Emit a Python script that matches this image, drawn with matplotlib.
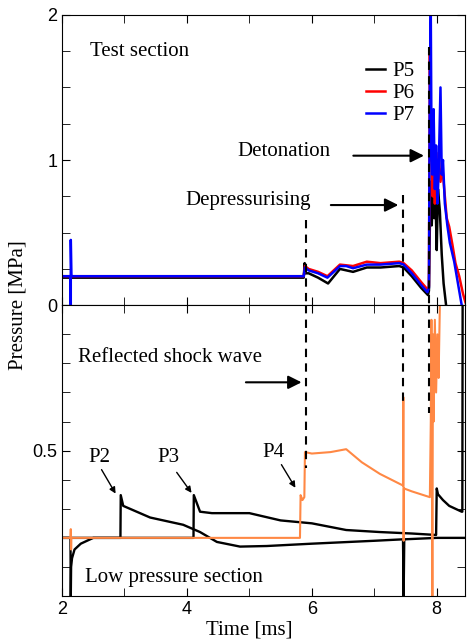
import matplotlib
matplotlib.use('Agg')
import matplotlib.pyplot as plt
from matplotlib.ticker import MultipleLocator

# test section (top panel), time in ms, pressure in MPa
p5_t = [2.0, 5.87, 5.885, 5.9, 5.95, 6.1, 6.26, 6.45, 6.66, 6.88, 7.1, 7.4, 7.47, 7.6, 7.75, 7.86,
        7.875, 7.9, 7.92, 7.94, 7.96, 7.98, 8.0, 8.02, 8.05, 8.08, 8.11, 8.15, 8.17]
p5_v = [0.19, 0.19, 0.29, 0.22, 0.22, 0.19, 0.15, 0.25, 0.23, 0.26, 0.26, 0.27, 0.26, 0.2, 0.12, 0.07,
        0.1, 0.85, 0.55, 0.8, 0.6, 0.75, 0.38, 0.8, 0.65, 0.35, 0.15, 0.0, -0.05]
p6_t = [2.0, 5.87, 5.89, 5.95, 6.1, 6.25, 6.45, 6.66, 6.88, 7.1, 7.4, 7.47, 7.6, 7.75, 7.85, 7.875,
        7.89, 7.905, 7.92, 7.935, 7.95, 7.97, 7.99, 8.01, 8.03, 8.06, 8.09, 8.12, 8.16, 8.2, 8.25,
        8.3, 8.36, 8.42, 8.46]
p6_v = [0.2, 0.2, 0.27, 0.25, 0.23, 0.2, 0.28, 0.27, 0.3, 0.29, 0.3, 0.29, 0.24, 0.16, 0.11, 0.13,
        1.74, 1.0, 1.25, 0.75, 1.1, 0.7, 1.0, 0.8, 1.05, 0.85, 0.95, 0.8, 0.6, 0.54, 0.42,
        0.29, 0.2, 0.08, 0.02]
p7_t = [2.0, 2.13, 2.14, 2.14, 2.15, 2.16, 5.87, 5.89, 5.95, 6.1, 6.25, 6.45, 6.55, 6.66, 6.88, 7.1,
        7.4, 7.47, 7.6, 7.75, 7.85, 7.875, 7.89, 7.905, 7.915, 7.93, 7.95, 7.97, 7.99, 8.01, 8.03,
        8.06, 8.08, 8.1, 8.13, 8.17, 8.21, 8.28, 8.34, 8.40]
p7_v = [0.2, 0.2, 0.0, 0.45, 0.2, 0.2, 0.2, 0.26, 0.24, 0.22, 0.19, 0.27, 0.27, 0.255, 0.28, 0.28,
        0.29, 0.28, 0.22, 0.14, 0.09, 0.12, 1.6, 2.0, 1.2, 0.9, 1.35, 0.8, 1.1, 0.7, 0.9,
        1.5, 0.9, 1.0, 0.7, 0.55, 0.43, 0.3, 0.15, 0.0]

# low pressure section (bottom panel)
p2_t = [2.0, 2.135, 2.14, 2.145, 2.16, 2.2, 2.3, 2.5, 2.935, 2.94, 2.98, 3.41, 3.94, 4.21, 4.48,
        4.85, 5.28, 6.0, 7.0, 7.46, 7.47, 7.48, 8.0, 8.45]
p2_v = [0.2, 0.2, 0.0, 0.1, 0.13, 0.16, 0.18, 0.2, 0.2, 0.347, 0.31, 0.27, 0.245, 0.22, 0.186,
        0.17, 0.172, 0.18, 0.19, 0.195, 0.0, 0.195, 0.2, 0.2]
p3_t = [2.0, 4.105, 4.11, 4.21, 4.4, 5.0, 5.5, 6.0, 6.55, 7.09, 7.6, 7.99, 8.0, 8.02, 8.1, 8.2,
        8.3, 8.4, 8.41, 8.415]
p3_v = [0.2, 0.2, 0.347, 0.29, 0.285, 0.285, 0.26, 0.25, 0.227, 0.22, 0.215, 0.21, 0.37, 0.35,
        0.33, 0.31, 0.3, 0.29, 0.29, 1.05]
p4_t = [2.0, 2.135, 2.14, 2.145, 2.15, 5.81, 5.82, 5.85, 5.88, 5.89, 6.0, 6.3, 6.55, 6.8, 7.09,
        7.46, 7.465, 7.47, 7.475, 7.6, 7.89, 7.905, 7.915, 7.93, 7.94, 7.95, 7.97, 7.99, 8.01,
        8.03, 8.05, 8.07]
p4_v = [0.2, 0.2, 0.23, 0.16, 0.2, 0.2, 0.347, 0.33, 0.34, 0.495, 0.49, 0.495, 0.505, 0.46, 0.42,
        0.38, 0.684, 0.19, 0.37, 0.36, 0.34, 0.6, 0.95, 0.0, 0.9, 0.6, 0.95, 0.7, 0.9,
        0.75, 1.0, 1.1]

# dashed markers: time, top-panel start, bottom-panel end
dash_t = [5.9, 7.46, 7.87]
dash_top = [0.59, 0.76, 1.78]
dash_bot = [0.44, 0.67, 0.63]

serif = 'Liberation Serif'
sans = 'Liberation Sans'
plt.rcParams['font.family'] = sans

fig = plt.figure(figsize=(4.70, 6.44), dpi=100)
ax1 = fig.add_axes([0.132, 0.526, 0.857, 0.451])
ax2 = fig.add_axes([0.132, 0.0745, 0.857, 0.4515])

ax1.plot(p5_t, p5_v, color='black', lw=1.8, label='P5')
ax1.plot(p6_t, p6_v, color='red', lw=1.8, label='P6')
ax1.plot(p7_t, p7_v, color='blue', lw=1.8, label='P7')

ax2.plot(p2_t, p2_v, color='black', lw=1.7)
ax2.plot(p3_t, p3_v, color='black', lw=1.7)
ax2.plot(p4_t, p4_v, color='#ff8844', lw=1.5)

for t, a, b in zip(dash_t, dash_top, dash_bot):
    ax1.plot([t, t], [a, 0], color='black', lw=1.5, ls=(0, (4, 3)), clip_on=False)
    ax2.plot([t, t], [1, b], color='black', lw=1.5, ls=(0, (4, 3)), clip_on=False)

for ax in (ax1, ax2):
    ax.set_xlim(2, 8.45)
    ax.xaxis.set_major_locator(MultipleLocator(2))
    ax.xaxis.set_minor_locator(MultipleLocator(1))
    ax.tick_params(which='both', direction='in', top=True, right=True, labelsize=13)
    ax.tick_params(which='major', length=6)
    ax.tick_params(which='minor', length=6)

ax1.set_ylim(0, 2)
ax1.yaxis.set_major_locator(MultipleLocator(1))
ax1.yaxis.set_minor_locator(MultipleLocator(0.25))
ax1.tick_params(axis='x', labelbottom=False)

ax2.set_ylim(0, 1)
ax2.set_yticks([0.5])
ax2.yaxis.set_minor_locator(MultipleLocator(0.1))
ax2.set_yticklabels(['0.5'])

tk = dict(family=serif, fontsize=15)
ax1.text(2.45, 1.745, 'Test section', va='center', **tk)
ax1.text(4.8, 1.06, 'Detonation', va='center', **tk)
ax1.text(3.97, 0.72, 'Depressurising', va='center', **tk)
ax1.annotate('', xy=(7.84, 1.03), xytext=(6.62, 1.03),
             arrowprops=dict(arrowstyle='-|>', color='black', lw=1.5, mutation_scale=20))
ax1.annotate('', xy=(7.43, 0.69), xytext=(6.26, 0.69),
             arrowprops=dict(arrowstyle='-|>', color='black', lw=1.5, mutation_scale=20))

ax2.text(2.26, 0.82, 'Reflected shock wave', va='center', **tk)
ax2.text(2.37, 0.065, 'Low pressure section', va='center', **tk)
ax2.annotate('', xy=(5.88, 0.735), xytext=(4.9, 0.735),
             arrowprops=dict(arrowstyle='-|>', color='black', lw=1.5, mutation_scale=20))

for lab, tx, ty, x0, y0, x1, y1 in [('P2', 2.59, 0.478, 2.61, 0.443, 2.88, 0.344),
                                     ('P3', 3.71, 0.478, 3.81, 0.433, 4.10, 0.347),
                                     ('P4', 5.38, 0.495, 5.49, 0.46, 5.76, 0.364)]:
    ax2.text(tx, ty, lab, ha='center', va='center', **tk)
    ax2.annotate('', xy=(x1, y1), xytext=(x0, y0),
                 arrowprops=dict(arrowstyle='-|>', color='black', lw=1.0, mutation_scale=9))

ax1.legend(loc='upper left', bbox_to_anchor=(0.755, 0.84), frameon=False,
           prop=dict(family=serif, size=15), handlelength=0.9, handletextpad=0.35,
           labelspacing=0.12, borderpad=0, borderaxespad=0)

fig.text(0.038, 0.526, 'Pressure [MPa]', rotation=90, ha='center', va='center',
         family=serif, fontsize=15)
fig.text(0.53, 0.022, 'Time [ms]', ha='center', va='center', family=serif, fontsize=15)

fig.savefig('out.png', dpi=100)
